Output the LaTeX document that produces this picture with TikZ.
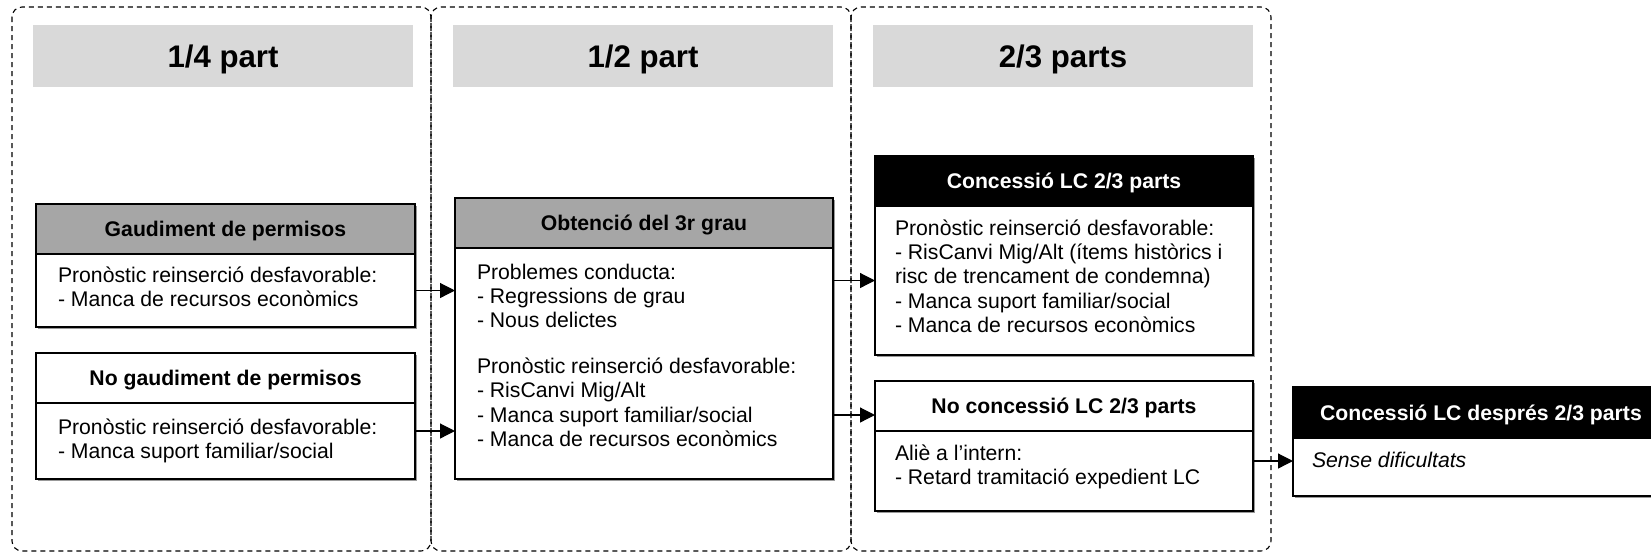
\documentclass[tikz,border=0pt]{standalone}
\usepackage{fontspec}
\setmainfont{Liberation Sans}
\usetikzlibrary{arrows.meta,shadows}
\definecolor{barfill}{HTML}{D9D9D9}
\definecolor{hdrgray}{HTML}{A6A6A6}
\begin{document}
\begin{tikzpicture}[x=0.5pt,y=-0.5pt,
  every node/.style={inner sep=0pt, outer sep=0pt},
  column/.style={draw=black, line width=0.55pt, dash pattern=on 2.5pt off 2pt, rounded corners=5pt},
  titlebar/.style={fill=barfill, anchor=north west, minimum width=190pt, minimum height=31pt,
    font=\fontsize{15.6pt}{18pt}\selectfont\bfseries, text height=11.2pt, text depth=0pt},
  boxpart/.style={draw, line width=0.6pt, fill=white, anchor=north west, minimum width=189pt,
    drop shadow={shadow xshift=0.8pt, shadow yshift=-0.8pt, fill=black!40, opacity=1}},
  hdr/.style={boxpart, minimum height=25pt, font=\fontsize{10.6pt}{12.2pt}\selectfont\bfseries,
    text height=7.6pt, text depth=0pt},
  graybox/.style={hdr, fill=hdrgray},
  blackbox/.style={hdr, fill=black, text=white},
  bodytext/.style={anchor=base west, font=\fontsize{10.6pt}{12.2pt}\selectfont},
  conn/.style={line width=0.6pt, -{Triangle[length=7.5pt,width=7.5pt]}},
]
\useasboundingbox (0,0) rectangle (1651,554);
\clip (0,0) rectangle (1651,554);

% column frames
\draw[column] (12,7) rectangle (431,551);
\draw[column] (431,7) rectangle (851,551);
\draw[column] (851,7) rectangle (1271,551);

% title bars
\node[titlebar] (t1) at (33,25) {1/4 part};
\node[titlebar] (t2) at (453,25) {1/2 part};
\node[titlebar] (t3) at (873,25) {2/3 parts};

% box A
\node[graybox, minimum width=189.5pt] (Ah) at (36,204) {Gaudiment de permisos};
\node[boxpart, minimum width=189.5pt, minimum height=36.5pt] (Ab) at (Ah.south west) {};
\node[bodytext] (At) at (58,282) {\begin{tabular}[t]{@{}l@{}}Pronòstic reinserció desfavorable:\\- Manca de recursos econòmics\end{tabular}};

% box B
\node[hdr, minimum width=189.5pt] (Bh) at (36,353) {No gaudiment de permisos};
\node[boxpart, minimum width=189.5pt, minimum height=38pt] (Bb) at (Bh.south west) {};
\node[bodytext] (Bt) at (58,434) {\begin{tabular}[t]{@{}l@{}}Pronòstic reinserció desfavorable:\\- Manca suport familiar/social\end{tabular}};

% box C
\node[graybox] (Ch) at (455,198) {Obtenció del 3r grau};
\node[boxpart, minimum height=115.5pt] (Cb) at (Ch.south west) {};
\node[bodytext] (Ct) at (477,279) {\begin{tabular}[t]{@{}l@{}}Problemes conducta:\\- Regressions de grau\\- Nous delictes\\[10.6pt]Pronòstic reinserció desfavorable:\\- RisCanvi Mig/Alt\\- Manca suport familiar/social\\- Manca de recursos econòmics\end{tabular}};

% box D
\node[blackbox] (Dh) at (875,156) {Concessió LC 2/3 parts};
\node[boxpart, minimum height=74.5pt] (Db) at (Dh.south west) {};
\node[bodytext] (Dt) at (895,235) {\begin{tabular}[t]{@{}l@{}}Pronòstic reinserció desfavorable:\\- RisCanvi Mig/Alt (ítems històrics i\\risc de trencament de condemna)\\- Manca suport familiar/social\\- Manca de recursos econòmics\end{tabular}};

% box E
\node[hdr] (Eh) at (875,381) {No concessió LC 2/3 parts};
\node[boxpart, minimum height=40pt] (Eb) at (Eh.south west) {};
\node[bodytext] (Et) at (895,460) {\begin{tabular}[t]{@{}l@{}}Aliè a l’intern:\\- Retard tramitació expedient LC\end{tabular}};

% box F
\node[blackbox, minimum width=188pt, minimum height=25.5pt] (Fh) at (1293,387) {Concessió LC després 2/3 parts};
\node[boxpart, minimum width=188pt, minimum height=29pt] (Fb) at (Fh.south west) {};
\node[bodytext, font=\fontsize{10.6pt}{12.2pt}\selectfont\itshape] (Ft) at (1312,467) {Sense dificultats};

% connectors
\draw[conn] (Ab.east) -- (Ab.east -| Cb.west);
\draw[conn] (Bb.east |- 0,431) -- (Cb.west |- 0,431);
\draw[conn] (Cb.east |- Db.west) -- (Db.west);
\draw[conn] (Cb.east |- 0,415) -- (Eh.west |- 0,415);
\draw[conn] (Eb.east |- 0,461) -- (Fb.west |- 0,461);
\end{tikzpicture}
\end{document}
